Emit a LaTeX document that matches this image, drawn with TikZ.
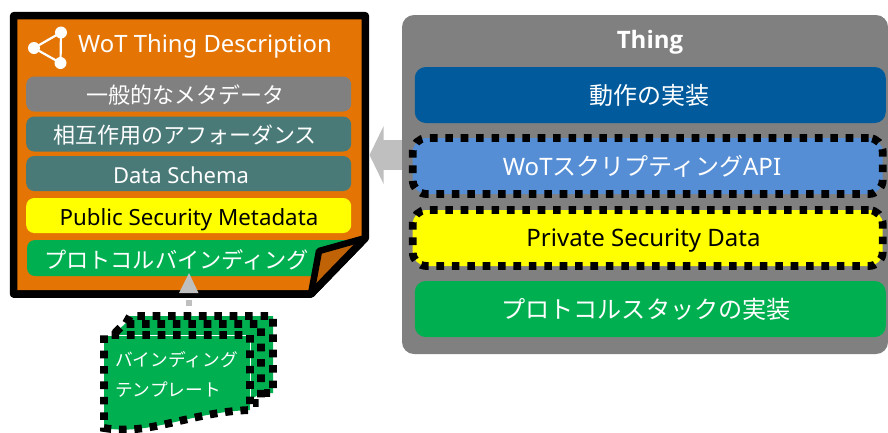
\documentclass[tikz,border=0pt]{standalone}
\usepackage{fontspec}
\setmainfont{Noto Sans}
\newfontfamily\cjk{Noto Sans CJK JP}
\newfontfamily\boldlatin{Open Sans Bold}
\usetikzlibrary{arrows.meta}
\definecolor{docorange}{HTML}{E47505}
\definecolor{folddark}{HTML}{C06306}
\definecolor{tealbar}{HTML}{4A7A78}
\definecolor{midgray}{HTML}{808080}
\definecolor{wotblue}{HTML}{005A9C}
\definecolor{apiblue}{HTML}{558ED5}
\definecolor{pgreen}{HTML}{00B050}
\definecolor{arrowgray}{HTML}{BFBFBF}
\definecolor{pureyellow}{HTML}{FFFF00}
\tikzset{
  bar/.style={rounded corners=8pt,inner sep=0pt,outer sep=0pt,minimum height=35pt,minimum width=325pt},
  bartext/.style={inner sep=0pt,font=\fontsize{22pt}{26pt}\selectfont,text=white},
  wide/.style={rounded corners=11pt,inner sep=0pt,outer sep=0pt,minimum height=56pt,minimum width=471pt},
  widetext/.style={inner sep=0pt,font=\fontsize{24pt}{28pt}\selectfont,text=white},
  dots/.style={draw=black,line width=7.8pt,dash pattern=on 7.6pt off 7.8pt},
  tpltext/.style={anchor=west,inner sep=0pt,text=white,font=\fontsize{17.7pt}{20pt}\selectfont\cjk},
  bigarrow/.style={color=arrowgray},
}
\begin{document}
\begin{tikzpicture}[x=1pt,y=-1pt]
\useasboundingbox (0,0) rectangle (888,432);
% Thing panel
\node[fill=midgray,rounded corners=12pt,inner sep=0pt,outer sep=0pt,minimum width=486pt,minimum height=339pt] (thing) at (645,184.5) {};
\node[text=white,font=\fontsize{24pt}{28pt}\selectfont\boldlatin,inner sep=0pt] (thingt) at (650,42) {Thing};
\node[wide,fill=wotblue] (impl) at (650.25,95) {};
\node[widetext] (implt) at (649,95.5) {\cjk 動作の実装};
\node[wide,fill=apiblue,minimum width=470pt,dots,rounded corners=14pt] (api) at (647.7,166) {};
\node[widetext] (apit) at (642,166.5) {WoT{\cjk スクリプティング}API};
\node[wide,fill=pureyellow,minimum width=470pt,dots,rounded corners=14pt] (priv) at (647.7,238) {};
\node[widetext,text=black] (privt) at (643.5,241) {Private Security Data};
\node[wide,fill=pgreen] (stack) at (650.25,309) {};
\node[widetext,font=\fontsize{24.15pt}{28pt}\selectfont\cjk] (stackt) at (646,309.5) {プロトコルスタックの実装};
% Document
\coordinate (dA) at (13.7,15.7);
\coordinate (dB) at (365.3,15.7);
\coordinate (dC) at (365.3,238);
\coordinate (dD) at (311,294);
\coordinate (dE) at (13.7,294);
\coordinate (fP) at (319,251);
\draw[fill=docorange,draw=black,line width=7.5pt,line join=round] (dA) -- (dB) -- (dC) -- (dD) -- (dE) -- cycle;
% share icon
\coordinate (i1) at (61,32.5);
\coordinate (i2) at (34,48);
\coordinate (i3) at (60.5,63);
\draw[white,line width=2.2pt] (i1) -- (i2) -- (i3) -- cycle;
\fill[white] (i1) circle (6pt) (i2) circle (6pt) (i3) circle (6pt);
\node[text=white,anchor=west,inner sep=0pt,font=\fontsize{23.85pt}{28pt}\selectfont] (title) at (78,46.5) {WoT Thing Description};
\node[bar,fill=midgray] (meta) at (188.7,94) {};
\node[bartext] (metat) at (185,95) {\cjk 一般的なメタデータ};
\node[bar,fill=tealbar] (aff) at (188.7,134) {};
\node[bartext] (afft) at (185,135) {\cjk 相互作用のアフォーダンス};
\node[bar,fill=tealbar] (schema) at (188.7,173.5) {};
\node[bartext] (schemat) at (181,175.5) {Data Schema};
\node[bar,fill=pureyellow] (pub) at (188.7,215.5) {};
\node[bartext,text=black,font=\fontsize{22.3pt}{26pt}\selectfont] (pubt) at (189,219.5) {Public Security Metadata};
\begin{scope}
\clip (fP) -- (dC) -- (dB) -- (dA) -- (dE) -- (dD) -- cycle;
\node[bar,fill=pgreen,minimum width=324pt,minimum height=36pt] (bind) at (189,258) {};
\end{scope}
\node[bartext,font=\fontsize{22.2pt}{26pt}\selectfont\cjk] (bindt) at (176.5,259.5) {プロトコルバインディング};
% fold
\fill[folddark] (dC) -- (fP) -- (dD) -- cycle;
\draw[black,line width=6.5pt,line join=round] (dC) -- (fP) -- (dD);
\draw[black,line width=7.5pt,line join=round,line cap=round] (dC) -- (dD) -- (dE);
% arrows
\coordinate (arrS) at (thing.west |- 0,155);
\draw[bigarrow,line width=30pt,-{Triangle[length=14pt,width=57pt]}] (arrS) -- (369.5,155);
\coordinate (tT) at (189,273);
\coordinate (tB) at (189,320);
\coordinate (tM) at (189,293);
\draw[bigarrow,line width=6pt,dash pattern=on 6pt off 7pt,dash phase=-7pt] (tM) -- (tB);
\fill[arrowgray] (tT) -- (198.5,293) -- (179,293) -- cycle;
% template
\fill[pgreen] (126,323) -- (130,316) -- (273,316) -- (273,393) -- (261,393) -- (250,400) -- (115,400) -- (115,333) -- cycle;
\draw[dots] (126,323) -- (130,316) -- (273,316) -- (273,393) -- (264,393);
\draw[dots] (115,333) -- (124,324) -- (261,324) -- (261,403) -- (253,403);
\fill[pgreen] (104,335) -- (250,335) -- (250,410) .. controls (190,412) and (150,436) .. (104,428) -- cycle;
\draw[white,line width=0.8pt] (104,335) -- (250,335) -- (250,410);
\draw[dots] (250,335) -- (250,410) .. controls (190,412) and (150,436) .. (104,428) -- (104,335) -- cycle;
\node[tpltext] (t1) at (115,360) {バインディング};
\node[tpltext] (t2) at (115,390) {テンプレート};
\end{tikzpicture}
\end{document}
